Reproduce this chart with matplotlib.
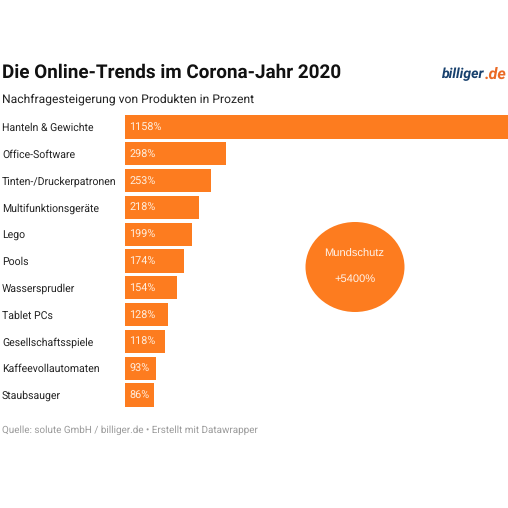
import matplotlib
matplotlib.use("Agg")
import matplotlib.pyplot as plt
from matplotlib.patches import Ellipse

categories = ["Hanteln & Gewichte", "Office-Software", "Tinten-/Druckerpatronen",
              "Multifunktionsgeräte", "Lego", "Pools", "Wassersprudler", "Tablet PCs",
              "Gesellschaftsspiele", "Kaffeevollautomaten", "Staubsauger"]
values = [1158, 298, 253, 218, 199, 174, 154, 128, 118, 93, 86]
title = "Die Online-Trends im Corona-Jahr 2020"
subtitle = "Nachfragesteigerung von Produkten in Prozent"
source = "Quelle: solute GmbH / billiger.de • Erstellt mit Datawrapper"

W = H = 508
ORANGE = "#fd7c1f"
plt.rcParams["font.family"] = ["Roboto", "DejaVu Sans"]
plt.rcParams["text.hinting"] = "none"

fig = plt.figure(figsize=(W / 100, H / 100), dpi=100, facecolor="white")
ax = fig.add_axes([125 / W, 1 - 408.4 / H, 383 / W, 294.8 / H])
ax.set_xlim(0, 383 / 0.338)
ax.set_ylim(10.5, -0.5)
ax.axis("off")
ax.barh(range(len(values)), values, height=0.86, color=ORANGE)
for i, (c, v) in enumerate(zip(categories, values)):
    ax.text(12, i + 0.03, f"{v}%", color="#ffeede", fontsize=7.8, va="center", ha="left")
    ax.text(-123 / 0.338, i + 0.04, c, color="#222222", fontsize=7.6, va="center", ha="left",
            clip_on=False)


def px(x, y):
    return x / W, 1 - y / H


fig.text(*px(1.5, 73), title, fontsize=13.6, fontweight="bold", color="#111111", va="center")
fig.text(*px(1.5, 99.5), subtitle, fontsize=8.7, color="#222222", va="center")
fig.text(*px(1.5, 430), source, fontsize=7.1, color="#9a9a9a", va="center")

fig.add_artist(Ellipse(px(355, 267), 99 / W, 90 / H, transform=fig.transFigure,
                       facecolor=ORANGE, edgecolor="none"))
fig.text(*px(354.5, 254), "Mundschutz", fontsize=8, color="#fff3ea", family="Liberation Sans",
         ha="center", va="center")
fig.text(*px(355, 279.5), "+5400%", fontsize=8, color="#fff3ea", family="Liberation Sans",
         ha="center", va="center")

fig.text(*px(484.5, 74.5), "billiger", fontsize=10.2, fontweight="bold", style="italic",
         family="Roboto", color="#17406d", ha="right", va="center")
fig.text(*px(484.5, 74.5), ".de", fontsize=11.6, fontweight="bold", style="italic",
         family="Roboto", color="#ea6a25", ha="left", va="center")

fig.savefig("out.png", dpi=100, facecolor="white")
